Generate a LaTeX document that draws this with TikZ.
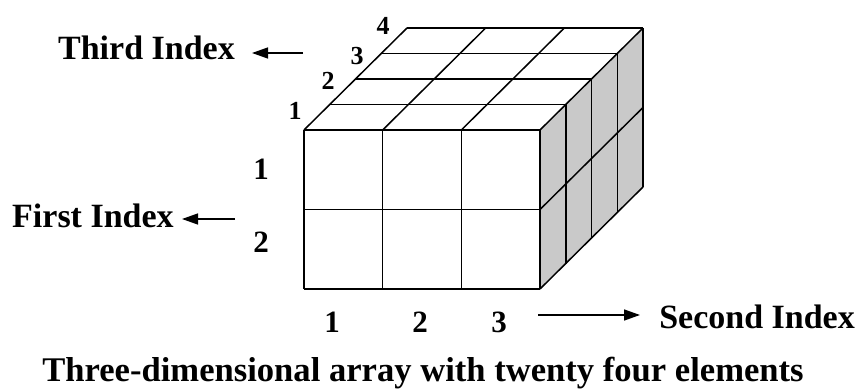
\documentclass[tikz,border=0pt]{standalone}
\usepackage{fontspec}
\setmainfont{Liberation Serif}
\usetikzlibrary{arrows.meta}
\begin{document}
\begin{tikzpicture}[x=1pt,y=-1pt,
  grid/.style={line width=1.5pt,black},
  idxarrow/.style={line width=1.4pt,-{Triangle[length=16pt,width=11pt]}},
  lbl/.style={font=\fontsize{34}{40}\selectfont\bfseries,inner sep=0pt,anchor=base},
  digit/.style={font=\fontsize{31}{36}\selectfont\bfseries,inner sep=0pt,anchor=base},
  ddigit/.style={font=\fontsize{26}{30}\selectfont\bfseries,inner sep=0pt,anchor=base}]
\useasboundingbox (0,0) rectangle (859,390);
\def\dx{25.75}\def\dy{25.5}
% side face
\fill[gray!42] (540,130) -- (643,28) -- (643,187) -- (540,289) -- cycle;
% front face grid
\foreach \x in {304,382.67,461.33,540} \draw[grid] (\x,130) -- (\x,289);
\foreach \y in {130,209.5,289} \draw[grid] (304,\y) -- (540,\y);
% top face
\foreach \k in {1,2,3,4} \draw[grid] (304+\k*\dx,130-\k*\dy) -- (540+\k*\dx,130-\k*\dy);
\foreach \x in {304,382.67,461.33,540} \draw[grid] (\x,130) -- (\x+103,28);
% side face
\foreach \k in {1,2,3,4} \draw[grid] (540+\k*\dx,130-\k*\dy) -- (540+\k*\dx,289-\k*\dy);
\draw[grid] (540,209.5) -- (643,107.5);
\draw[grid] (540,289) -- (643,187);
% depth labels
\node[ddigit] (d1) at (295,120) {1};
\node[ddigit] (d2) at (328,90) {2};
\node[ddigit] (d3) at (357,65) {3};
\node[ddigit] (d4) at (383,35) {4};
% row labels
\node[digit] (r1) at (261,180) {1};
\node[digit] (r2) at (261,252) {2};
% column labels
\node[digit] (c1) at (332,332) {1};
\node[digit] (c2) at (420,332) {2};
\node[digit] (c3) at (499,332) {3};
% index labels
\node[lbl,anchor=base east] (third) at (235,60) {Third Index};
\node[lbl,anchor=base west] (first) at (12,227) {First Index};
\node[lbl,anchor=base east] (second) at (855,328) {Second Index};
\node[lbl,font=\fontsize{34.6}{40}\selectfont\bfseries] (cap) at (423,381) {Three-dimensional array with twenty four elements};
% arrows
\coordinate (ta) at (303,53); \coordinate (tb) at (252,53);
\coordinate (fa) at (235,219); \coordinate (fb) at (182,219);
\coordinate (sa) at (538,315); \coordinate (sb) at (640,315);
\draw[idxarrow] (ta) -- (tb);
\draw[idxarrow] (fa) -- (fb);
\draw[idxarrow] (sa) -- (sb);
\end{tikzpicture}
\end{document}
